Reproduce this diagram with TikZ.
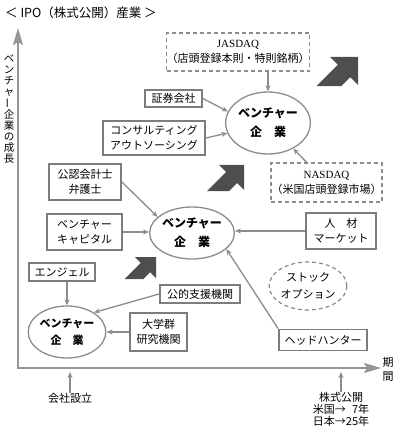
\documentclass[tikz,border=0pt]{standalone}
\usepackage{fontspec}
\setmainfont{Noto Sans CJK JP}
\newfontfamily\lat{Liberation Serif}
\usetikzlibrary{arrows.meta,shapes.geometric}
\definecolor{lg}{RGB}{140,140,140}
\definecolor{ax}{RGB}{150,150,150}
\definecolor{bx}{RGB}{125,125,125}
\definecolor{dk}{RGB}{78,78,78}
\tikzset{
  pics/bigarrow/.style={code={\fill[dk] (0,0) -- (-25,0) -- (-18,7) -- (-37,26) -- (-15,26) -- (-7,18) -- (0,25) -- cycle;}}
}
\begin{document}
\begin{tikzpicture}[x=1pt,y=-1pt,
  box/.style={draw=bx,line width=1.8pt,inner sep=0pt,align=center,font=\fontsize{11}{15}\selectfont},
  dbox/.style={draw=lg,line width=1.2pt,dash pattern=on 4pt off 3pt,inner sep=0pt,align=center,font=\fontsize{11}{15}\selectfont},
  ell/.style={draw=lg,line width=1.3pt,ellipse,inner sep=0pt,align=center,font=\bfseries\fontsize{12}{19}\selectfont},
  dell/.style={draw=lg,line width=1.2pt,dash pattern=on 4pt off 3pt,ellipse,inner sep=0pt,align=center,font=\fontsize{11}{17}\selectfont},
  conn/.style={draw=lg,line width=1.3pt,-{Stealth[length=6pt,width=5pt]}},
  axisline/.style={draw=ax,line width=2pt,line join=miter,{Stealth[length=17pt,width=10pt,inset=3pt]}-{Stealth[length=17pt,width=10pt,inset=3pt]}},
  lbl/.style={inner sep=0pt,align=center,font=\fontsize{11}{12}\selectfont},
]
\useasboundingbox (0,0) rectangle (400,430);

% title
\node[anchor=west,inner sep=0pt,font=\fontsize{12.5}{15}\selectfont] (title) at (5,13) {＜ IPO（株式公開）産業 ＞};

% axes
\coordinate (ytop) at (18,28);
\coordinate (origin) at (18,368);
\coordinate (xend) at (381,368);
\draw[axisline] (ytop) -- (origin) -- (xend);
\node[lbl,font=\fontsize{10.5}{10.8}\selectfont] (vlab) at (9,109) {ベ\\ン\\チ\\ャ\\\rotatebox[origin=c]{90}{ー}\\企\\業\\の\\成\\長};
\node[lbl,font=\fontsize{11}{14}\selectfont] (kikan) at (388,369) {期\\間};

\node[lbl] (kaisha) at (70,398) {会社設立};
\node[lbl] (ipo) at (341,409) {株式公開\\米国→\phantom{2}7年\\日本→25年};
\draw[conn,shorten >=4pt] (kaisha.north) -- (kaisha.north |- origin);
\draw[conn,shorten >=4pt] (ipo.north) -- (ipo.north |- origin);

% big arrows
\pic[scale=1.12] at (358,57) {bigarrow};
\pic at (244,165) {bigarrow};
\pic[scale=0.85] at (156,257) {bigarrow};

% ellipses
\node[ell,minimum width=84pt,minimum height=62pt] (topE) at (268,123) {ベンチャー\\企\hspace{1em}業};
\node[ell,minimum width=78pt,minimum height=52pt] (midE) at (192,233) {ベンチャー\\企\hspace{1em}業};
\node[ell,minimum width=68pt,minimum height=52pt,font=\bfseries\fontsize{11}{17}\selectfont] (botE) at (67,332) {ベンチャー\\企\hspace{1em}業};
\node[dell,minimum width=76pt,minimum height=48pt] (stock) at (308,286) {ストック\\オプション};

% dashed boxes
\node[dbox,minimum width=142pt,minimum height=38pt] (jas) at (238,52) {{\lat JASDAQ}\\（店頭登録本則・特則銘柄）};
\node[dbox,minimum width=111pt,minimum height=39pt] (nas) at (326.5,182.5) {{\lat NASDAQ}\\（米国店頭登録市場）};

% boxes
\node[box,minimum width=57pt,minimum height=17pt] (sho) at (173.5,98.5) {証券会社};
\node[box,minimum width=102pt,minimum height=34pt] (con) at (154,138) {コンサルティング\\アウトソーシング};
\node[box,minimum width=72pt,minimum height=36pt] (kou) at (85,182) {公認会計士\\弁護士};
\node[box,minimum width=75pt,minimum height=36pt] (vc) at (84.5,232) {ベンチャー\\キャピタル};
\node[box,minimum width=70pt,minimum height=36pt] (jin) at (341,231) {人\hspace{1em}材\\マーケット};
\node[box,minimum width=66pt,minimum height=18pt] (ang) at (62,272) {エンジェル};
\node[box,minimum width=80pt,minimum height=18pt] (pub) at (200,294) {公的支援機関};
\node[box,minimum width=57pt,minimum height=38pt] (univ) at (158.5,332) {大学群\\研究機関};
\node[box,minimum width=88pt,minimum height=21pt] (hh) at (323,340) {ヘッドハンター};

% connectors
\draw[conn] (jas.south -| topE.north) -- (topE.north);
\draw[conn] (sho.east) -- (topE.164);
\draw[conn] (con.east) -- (topE.194);
\draw[conn] (nas) -- (topE);
\draw[conn] (kou.east) -- (midE.155);
\draw[conn] (vc.east) -- (vc.east -| midE.west);
\draw[conn] (jin.west) -- (jin.west -| midE.east);
\draw[conn] (hh.north west) -- (midE.335);
\draw[conn] (ang.south -| botE.north) -- (botE.north);
\draw[conn] (pub.west) -- (botE.36);
\draw[conn] (univ.west) -- (univ.west -| botE.east);
\end{tikzpicture}
\end{document}
